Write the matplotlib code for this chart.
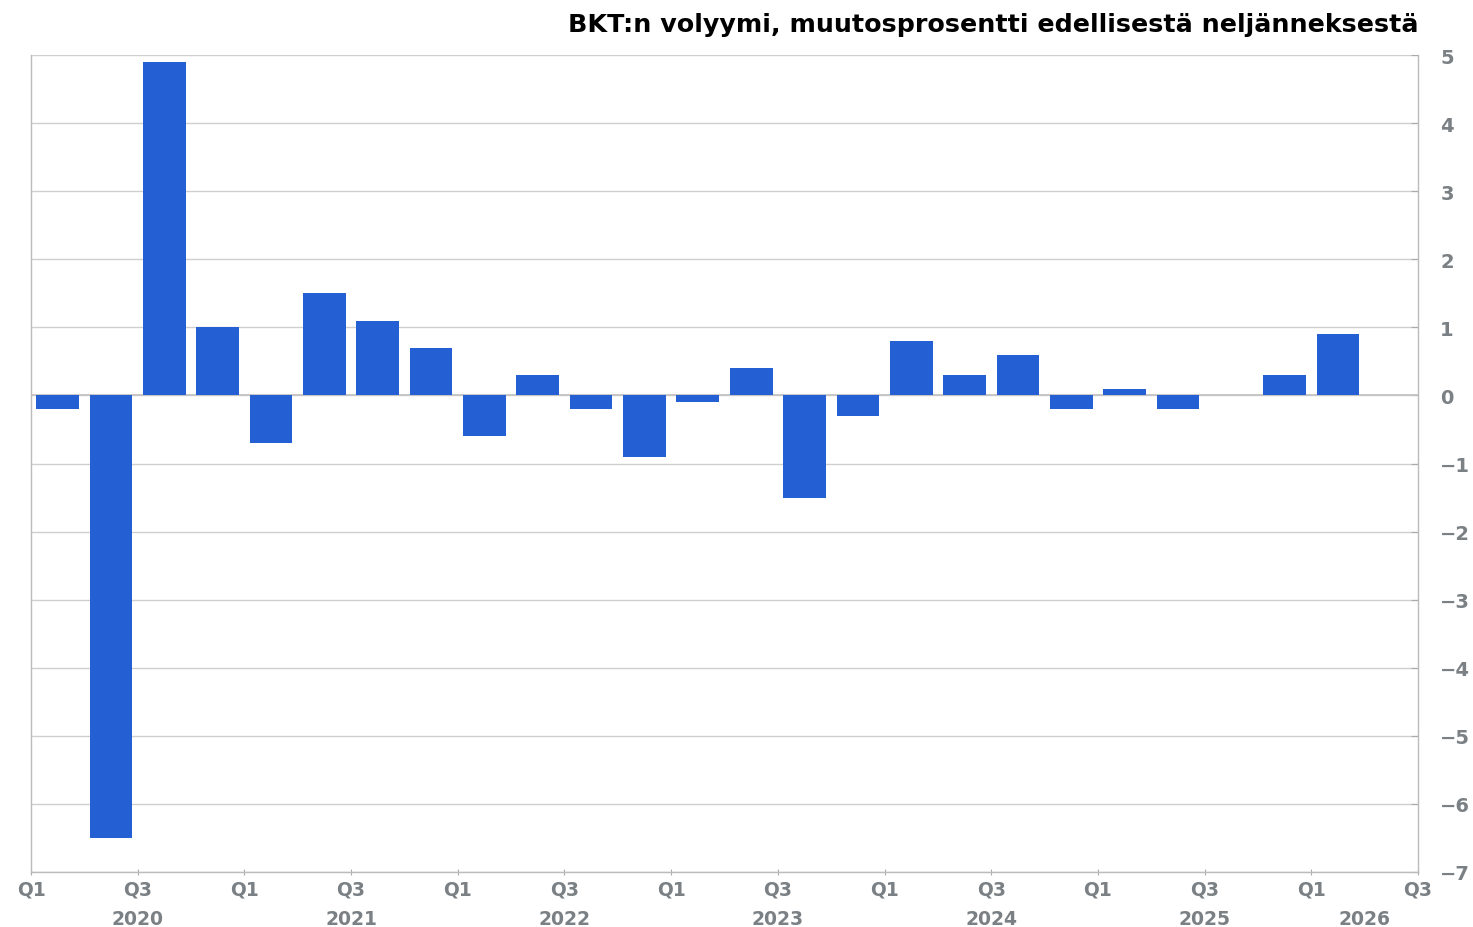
import numpy as np
import matplotlib
matplotlib.use('Agg')
import matplotlib.pyplot as plt

plt.rcParams.update({'font.family': ['DejaVu Sans']})

# Quarterly GDP volume change, % from previous quarter (2020Q1 .. 2026Q2)
quarters = [f'{y}Q{q}' for y in range(2020, 2027) for q in range(1, 5)][:26]
values = [-0.2, -6.5, 4.9, 1.0,
          -0.7, 1.5, 1.1, 0.7,
          -0.6, 0.3, -0.2, -0.9,
          -0.1, 0.4, -1.5, -0.3,
          0.8, 0.3, 0.6, -0.2,
          0.1, -0.2, 0.0, 0.3,
          0.9, np.nan]
years = [2020, 2021, 2022, 2023, 2024, 2025, 2026]
title = 'BKT:n volyymi, muutosprosentti edellisestä neljänneksestä'

BAR = '#245FD3'
GRAY = '#7A8084'
GRID = '#CFCFCF'

fig = plt.figure(figsize=(14.73, 9.28), dpi=100)
ax = fig.add_axes([31/1473, 1 - 873/928, (1418 - 31)/1473, (873 - 56)/928])

n = len(quarters)
x = np.arange(n) + 0.5
ax.bar(x, values, width=0.8, color=BAR, linewidth=0, zorder=3)

ax.set_xlim(0, n)
ax.set_ylim(-7, 5)
ax.set_yticks(range(-7, 6))
ax.set_yticklabels([str(v).replace('-', '−') for v in range(-7, 6)])
ax.yaxis.tick_right()
ax.grid(axis='y', color=GRID, linewidth=1, zorder=0)
ax.axhline(0, color='#C4C4C4', linewidth=1.3, zorder=2)

xt = np.arange(0, n + 1, 2)
ax.set_xticks(xt)
ax.set_xticklabels(['Q1' if (t % 4 == 0) else 'Q3' for t in xt])
ax.tick_params(axis='x', length=5, color='#AAAAAA', direction='inout', pad=3)
ax.tick_params(axis='y', length=5, color='#AAAAAA', direction='in', pad=16)
for lab in ax.get_xticklabels() + ax.get_yticklabels():
    lab.set_fontweight('bold')
    lab.set_color(GRAY)
    lab.set_fontsize(13.5)
for lab in ax.get_yticklabels():
    lab.set_fontsize(14)

for i, yr in enumerate(years):
    lo, hi = max(i * 4, 0), min(i * 4 + 4, n)
    ax.text((lo + hi) / 2, -0.045, str(yr), transform=ax.get_xaxis_transform(),
            ha='center', va='top', fontsize=13.5, fontweight='bold', color=GRAY)

ax.spines['top'].set_visible(False)
for side in ['left', 'right', 'bottom']:
    ax.spines[side].set_color('#BBBBBB')
    ax.spines[side].set_linewidth(1)

fig.text(1418/1473, 1 - 32/928, title, ha='right', va='baseline',
         fontsize=18.3, fontweight='bold', color='black')

fig.savefig('out.png', dpi=100)
